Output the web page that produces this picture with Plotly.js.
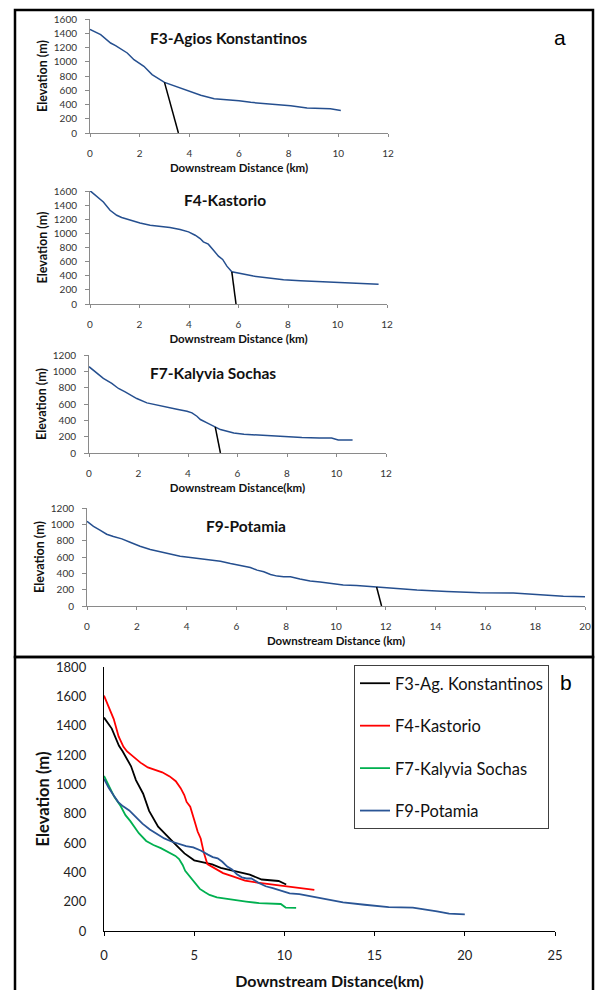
<!DOCTYPE html>
<html>
<head>
<meta charset="utf-8">
<script src="https://cdn.plot.ly/plotly-3.0.1.min.js"></script>
<style>html,body{margin:0;padding:0;background:#fff}#chart{width:597px;height:990px}</style>
</head>
<body>
<div id="chart"></div>
<script>
// ---- Data ----
const seriesNames = ["F3-Ag. Konstantinos", "F4-Kastorio", "F7-Kalyvia Sochas", "F9-Potamia"];
const panelTitles = ["F3-Agios Konstantinos", "F4-Kastorio", "F7-Kalyvia Sochas", "F9-Potamia"];

const f3Dist = [0, 0.43, 0.83, 1.03, 1.5, 1.77, 2.17, 2.5, 3.0, 3.5, 4.0, 4.46, 5.0, 5.5, 6.0, 6.47, 7.0, 7.54, 8.08, 8.74, 9.68, 10.1];
const f3Elev = [1455, 1380, 1263, 1226, 1123, 1029, 936, 819, 711, 646, 585, 529, 482, 468, 454, 430, 416, 398, 384, 351, 341, 317];

const f4Dist = [0, 0.27, 0.54, 0.81, 1.08, 1.28, 1.62, 2.02, 2.43, 2.83, 3.23, 3.64, 3.98, 4.25, 4.45, 4.58, 4.78, 4.99, 5.19, 5.36, 5.53, 5.73, 6.2, 6.6, 7.14, 7.82, 8.5, 9.44, 10.38, 11.66];
const f4Elev = [1605, 1525, 1445, 1327, 1256, 1224, 1186, 1148, 1115, 1101, 1082, 1054, 1021, 974, 927, 880, 847, 762, 678, 631, 536, 456, 424, 395, 372, 344, 330, 315, 301, 280];

const f7Dist = [0, 0.31, 0.58, 0.92, 1.19, 1.46, 1.93, 2.34, 2.74, 3.15, 3.55, 3.96, 4.16, 4.36, 4.5, 4.77, 5.1, 5.31, 5.58, 5.85, 6.26, 6.66, 7.2, 7.88, 8.6, 9.3, 9.8, 10.07, 10.65];
const f7Elev = [1057, 975, 913, 852, 790, 749, 667, 614, 586, 565, 536, 512, 491, 450, 410, 369, 319, 287, 266, 246, 229, 221, 213, 201, 190, 184, 184, 160, 158];

const f9Dist = [0, 0.26, 0.52, 0.79, 1.06, 1.4, 1.73, 2.13, 2.54, 2.94, 3.34, 3.74, 4.15, 4.55, 4.95, 5.36, 5.76, 6.03, 6.3, 6.56, 6.83, 7.1, 7.37, 7.64, 7.9, 8.17, 8.55, 8.96, 9.36, 9.76, 10.29, 10.83, 11.63, 12.44, 13.25, 14.45, 15.78, 17.12, 17.92, 18.46, 19.13, 20.0];
const f9Elev = [1037, 976, 928, 879, 850, 822, 781, 732, 692, 663, 631, 610, 594, 578, 570, 549, 521, 504, 496, 472, 439, 419, 386, 366, 358, 358, 330, 305, 293, 277, 256, 252, 232, 211, 195, 179, 163, 159, 146, 134, 118, 114];

// knickpoint marker lines (top on profile, base on x-axis)
const knickTopDist = [3.0, 5.73, 5.1, 11.63];
const knickTopElev = [711, 456, 319, 232];
const knickBaseDist = [3.56, 5.9, 5.31, 11.83];

const panelXMax = [12, 12, 12, 20];
const panelYMax = [1600, 1600, 1200, 1200];
const xTitles = ["Downstream Distance (km)", "Downstream Distance (km)", "Downstream Distance(km)", "Downstream Distance (km)"];

// ---- Layout helpers ----
const W = 597, H = 990;
const fx = p => p / W;
const fy = p => 1 - p / H;

const dists = [f3Dist, f4Dist, f7Dist, f9Dist];
const elevs = [f3Elev, f4Elev, f7Elev, f9Elev];
const profileBlue = "#254f8f";
const bColors = ["#000000", "#ff0000", "#00b050", "#2a5595"];

// pixel boxes of the plot areas [x0, x1, ytop, ybottom]
const boxes = [
  [90, 388, 19, 133],
  [90, 387, 191, 304],
  [89, 386, 355, 453],
  [87, 585, 508, 606],
  [104, 555, 667, 931]
];

const FONT = "Lato, 'Open Sans', sans-serif";
const traces = [];
const layout = {
  width: W, height: H,
  margin: {l: 0, r: 0, t: 0, b: 0},
  paper_bgcolor: "#fff", plot_bgcolor: "rgba(0,0,0,0)",
  font: {family: FONT, color: "#222"},
  showlegend: true,
  legend: {
    x: fx(354), y: fy(665), xanchor: "left", yanchor: "top",
    bgcolor: "#fff", bordercolor: "#404040", borderwidth: 1,
    font: {family: FONT, size: 16.5, color: "#111"},
    tracegroupgap: 18, itemwidth: 30
  },
  shapes: [], annotations: []
};

for (let i = 0; i < 4; i++) {
  const n = i + 1;
  const xa = n === 1 ? "x" : "x" + n, ya = n === 1 ? "y" : "y" + n;
  traces.push({
    x: dists[i], y: elevs[i], xaxis: xa, yaxis: ya, type: "scatter", mode: "lines",
    line: {color: profileBlue, width: 1.5}, showlegend: false, hoverinfo: "skip"
  });
  traces.push({
    x: [knickTopDist[i], knickBaseDist[i]], y: [knickTopElev[i], 0], xaxis: xa, yaxis: ya,
    type: "scatter", mode: "lines", line: {color: "#000", width: 1.5}, showlegend: false, hoverinfo: "skip"
  });
  const b = boxes[i];
  layout["xaxis" + (n === 1 ? "" : n)] = {
    domain: [fx(b[0]), fx(b[1])], anchor: ya, range: [0, panelXMax[i]], dtick: 2,
    showgrid: false, zeroline: false, showline: true, linecolor: "#8a8a8a", linewidth: 1,
    ticks: "outside", ticklen: 3, tickcolor: "#8a8a8a", ticklabelstandoff: 8,
    tickfont: {size: 10, family: FONT, color: "#333"},
    title: {text: "<b>" + xTitles[i] + "</b>", font: {size: 11.5, family: FONT, color: "#111"}, standoff: 5},
    automargin: false, fixedrange: true
  };
  layout["yaxis" + (n === 1 ? "" : n)] = {
    domain: [fy(b[3]), fy(b[2])], anchor: xa, range: [0, panelYMax[i]], dtick: 200,
    showgrid: false, zeroline: false, showline: true, linecolor: "#8a8a8a", linewidth: 1,
    ticks: "outside", ticklen: 4, tickcolor: "#8a8a8a", ticklabelstandoff: 6,
    tickfont: {size: 10, family: FONT, color: "#333"},
    title: {text: "<b>Elevation (m)</b>", font: {size: 12.5, family: FONT, color: "#111"}, standoff: 3},
    automargin: false, fixedrange: true
  };
  // inner half of the crossing ticks
  layout["xaxis" + (n + 5)] = {
    overlaying: xa, anchor: ya, range: [0, panelXMax[i]], dtick: 2,
    showgrid: false, zeroline: false, showline: false, showticklabels: false,
    ticks: "inside", ticklen: 3, tickcolor: "#8a8a8a", fixedrange: true
  };
}

// panel b
for (let i = 0; i < 4; i++) {
  traces.push({
    x: dists[i], y: elevs[i], xaxis: "x5", yaxis: "y5", type: "scatter", mode: "lines",
    name: seriesNames[i], legendgroup: "g" + i,
    line: {color: bColors[i], width: 1.8}, hoverinfo: "skip"
  });
}
const b5 = boxes[4];
layout.xaxis5 = {
  domain: [fx(b5[0]), fx(b5[1])], anchor: "y5", range: [0, 25], dtick: 5,
  showgrid: false, zeroline: false, showline: true, linecolor: "#000", linewidth: 1.2,
  ticks: "outside", ticklen: 4, tickcolor: "#000", ticklabelstandoff: 8,
  tickfont: {size: 13, family: FONT, color: "#222"},
  title: {text: "<b>Downstream Distance(km)</b>", font: {size: 16, family: FONT, color: "#111"}, standoff: 18},
  automargin: false, fixedrange: true
};
layout.yaxis5 = {
  domain: [fy(b5[3]), fy(b5[2])], anchor: "x5", range: [0, 1800], dtick: 200,
  showgrid: false, zeroline: false, showline: true, linecolor: "#000", linewidth: 1.2,
  ticks: "", ticklabelstandoff: 14,
  tickfont: {size: 13, family: FONT, color: "#222"},
  title: {text: "<b>Elevation (m)</b>", font: {size: 16.5, family: FONT, color: "#111"}, standoff: 2},
  automargin: false, fixedrange: true
};
layout.xaxis10 = {
  overlaying: "x5", anchor: "y5", range: [0, 25], dtick: 5,
  showgrid: false, zeroline: false, showline: false, showticklabels: false,
  ticks: "inside", ticklen: 4, tickcolor: "#000", fixedrange: true
};

// panel titles
const titlePos = [[228, 38], [224.5, 200], [212.5, 373], [246.5, 526]];
for (let i = 0; i < 4; i++) {
  layout.annotations.push({
    xref: "paper", yref: "paper", x: fx(titlePos[i][0]), y: fy(titlePos[i][1]),
    xanchor: "center", yanchor: "middle", showarrow: false,
    text: "<b>" + panelTitles[i] + "</b>", font: {size: 15.5, family: FONT, color: "#111"}
  });
}
layout.annotations.push({xref: "paper", yref: "paper", x: fx(560), y: fy(37), xanchor: "center", yanchor: "middle",
  showarrow: false, text: "a", font: {size: 21, family: "Liberation Sans, Arial, sans-serif", color: "#000"}});
layout.annotations.push({xref: "paper", yref: "paper", x: fx(566), y: fy(682), xanchor: "center", yanchor: "middle",
  showarrow: false, text: "b", font: {size: 21, family: "Liberation Sans, Arial, sans-serif", color: "#000"}});

// frames around the two panels
layout.shapes.push({type: "rect", xref: "paper", yref: "paper", x0: fx(15), x1: fx(593), y0: fy(657), y1: fy(10),
  line: {color: "#000", width: 2.5}, fillcolor: "rgba(0,0,0,0)", layer: "above"});
layout.shapes.push({type: "rect", xref: "paper", yref: "paper", x0: fx(15), x1: fx(593), y0: -0.02, y1: fy(657),
  line: {color: "#000", width: 2.5}, fillcolor: "rgba(0,0,0,0)", layer: "above"});

Plotly.newPlot("chart", traces, layout, {staticPlot: true, displayModeBar: false});
</script>
</body>
</html>
